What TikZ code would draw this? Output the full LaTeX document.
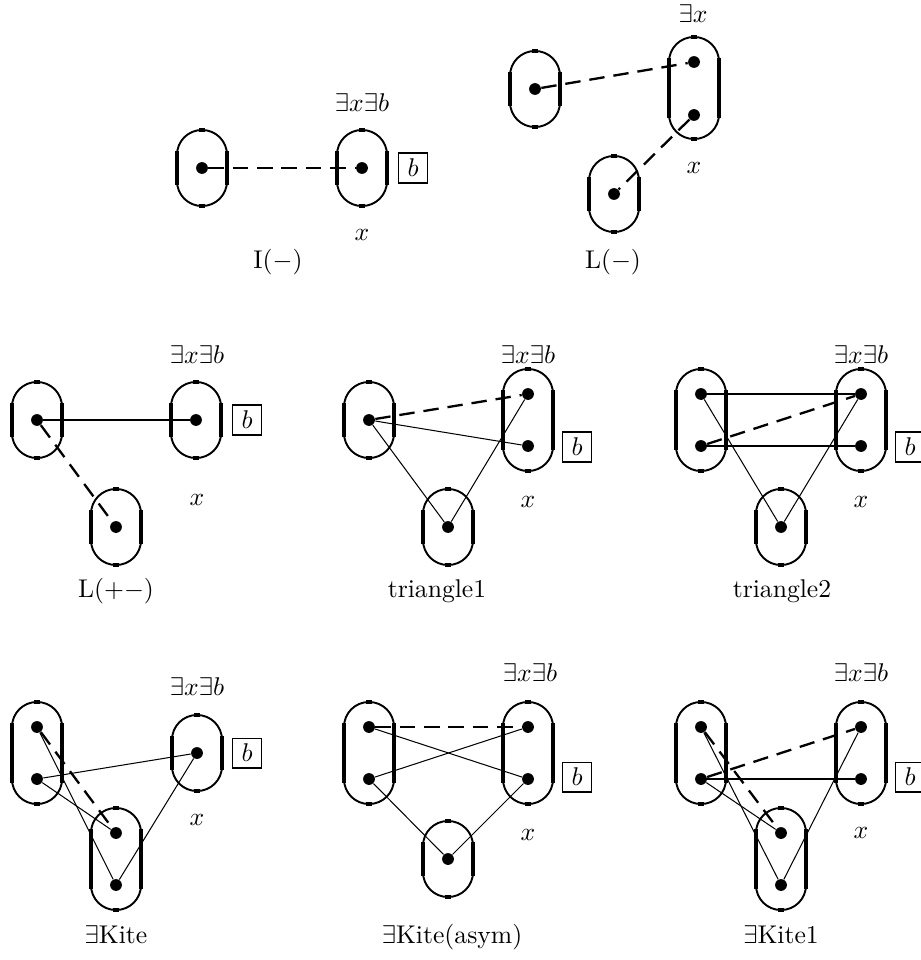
\documentclass[tikz,border=0pt]{standalone}
\usepackage{amssymb}
\usepackage{amsmath}

\tikzset{
    capline/.style={line width=0.75pt},
    capside/.style={line width=1.6pt},
    pics/capsule/.default=13,
    pics/capsule/.style={code={
        \draw[capline, rounded corners=9.7pt] (-25,{-#1-25}) rectangle (25,{#1+25});
        \draw[capside] (-25,{-#1-4}) -- (-25,{#1+4});
        \draw[capside] (25,{-#1-4}) -- (25,{#1+4});
        \draw[capside] (-3,{-#1-25}) -- (3,{-#1-25});
        \draw[capside] (-3,{#1+25}) -- (3,{#1+25});
    }}
}

\begin{document}
\begin{tikzpicture}[x=0.39pt, y=-0.39pt,
    dot/.style={circle, fill, inner sep=0pt, minimum size=4.6pt},
    dashline/.style={line width=0.9pt, dash pattern=on 6pt off 3.5pt},
    solidline/.style={line width=0.8pt},
    thinline/.style={line width=0.4pt},
    bbox/.style={draw, line width=0.75pt, inner xsep=3.5pt, inner ysep=2.2pt},
    caption/.style={anchor=base}]
    \useasboundingbox (0,0) rectangle (920,960);
    % I(-)
    \pic at (202,168) {capsule};
    \pic at (362,168) {capsule};
    \node[dot] (I1) at (202,168) {};
    \node[dot] (I2) at (362,168) {};
    \draw[dashline] (I1) -- (I2);
    \node at (362,103) {$\exists x\exists b$};
    \node[bbox] at (413,168) {$b$};
    \node at (362,235) {$x$};
    \node[caption] at (278,268) {I$(-)$};
    % L(-)
    \pic at (535,89) {capsule};
    \pic at (694,88) {capsule=26};
    \pic at (614,194) {capsule};
    \node[dot] (L1) at (535,89) {};
    \node[dot] (L2) at (694,62) {};
    \node[dot] (L3) at (694,115) {};
    \node[dot] (L4) at (614,194) {};
    \draw[dashline] (L1) -- (L2);
    \draw[dashline] (L3) -- (L4);
    \node at (693,14) {$\exists x$};
    \node at (694,168) {$x$};
    \node[caption] at (613,268) {L$(-)$};
    % L(+-)
    \pic at (37,420) {capsule};
    \pic at (196,420) {capsule};
    \pic at (116,527) {capsule};
    \node[dot] (P1) at (37,420) {};
    \node[dot] (P2) at (196,420) {};
    \node[dot] (P3) at (116,527) {};
    \draw[solidline] (P1) -- (P2);
    \draw[dashline] (P1) -- (P3);
    \node at (197,355) {$\exists x\exists b$};
    \node[bbox] at (247,420) {$b$};
    \node at (197,500) {$x$};
    \node[caption] at (116,597) {L$(+-)$};
    % triangle1
    \pic at (369,420) {capsule};
    \pic at (528,420) {capsule=26};
    \pic at (448,527) {capsule};
    \node[dot] (T1) at (369,420) {};
    \node[dot] (T2) at (528,394) {};
    \node[dot] (T3) at (528,446) {};
    \node[dot] (T4) at (448,527) {};
    \draw[dashline] (T1) -- (T2);
    \draw[thinline] (T1) -- (T3);
    \draw[thinline] (T1) -- (T4);
    \draw[thinline] (T4) -- (T2);
    \node at (528,355) {$\exists x\exists b$};
    \node[bbox] at (577,447) {$b$};
    \node at (528,502) {$x$};
    \node[caption] at (437,597) {triangle1};
    % triangle2
    \pic at (701,420) {capsule=26};
    \pic at (861,420) {capsule=26};
    \pic at (781,527) {capsule};
    \node[dot] (U1) at (701,394) {};
    \node[dot] (U2) at (701,446) {};
    \node[dot] (U3) at (861,394) {};
    \node[dot] (U4) at (861,446) {};
    \node[dot] (U5) at (781,527) {};
    \draw[solidline] (U1) -- (U3);
    \draw[solidline] (U2) -- (U4);
    \draw[dashline] (U2) -- (U3);
    \draw[thinline] (U1) -- (U5);
    \draw[thinline] (U5) -- (U3);
    \node at (861,355) {$\exists x\exists b$};
    \node[bbox] at (910,447) {$b$};
    \node at (861,502) {$x$};
    \node[caption] at (782,597) {triangle2};
    % Kite
    \pic at (37,753) {capsule=26};
    \pic at (197,753) {capsule};
    \pic at (116,859) {capsule=26};
    \node[dot] (K1) at (37,727) {};
    \node[dot] (K2) at (37,779) {};
    \node[dot] (K3) at (197,753) {};
    \node[dot] (K4) at (116,833) {};
    \node[dot] (K5) at (116,885) {};
    \draw[dashline] (K1) -- (K4);
    \draw[thinline] (K1) -- (K5);
    \draw[thinline] (K2) -- (K4);
    \draw[thinline] (K2) -- (K3);
    \draw[thinline] (K3) -- (K5);
    \node at (197,687) {$\exists x\exists b$};
    \node[bbox] at (247,753) {$b$};
    \node at (197,820) {$x$};
    \node[caption] at (116,943) {$\exists$Kite};
    % Kite(asym)
    \pic at (369,753) {capsule=26};
    \pic at (528,753) {capsule=26};
    \pic at (448,859) {capsule};
    \node[dot] (A1) at (369,727) {};
    \node[dot] (A2) at (369,779) {};
    \node[dot] (A3) at (528,727) {};
    \node[dot] (A4) at (528,779) {};
    \node[dot] (A5) at (448,859) {};
    \draw[dashline] (A1) -- (A3);
    \draw[thinline] (A1) -- (A4);
    \draw[thinline] (A2) -- (A3);
    \draw[thinline] (A2) -- (A5);
    \draw[thinline] (A5) -- (A4);
    \node at (530,673) {$\exists x\exists b$};
    \node[bbox] at (577,777) {$b$};
    \node at (528,835) {$x$};
    \node[caption] at (452,943) {$\exists$Kite(asym)};
    % Kite1
    \pic at (701,753) {capsule=26};
    \pic at (861,753) {capsule=26};
    \pic at (781,859) {capsule=26};
    \node[dot] (E1) at (701,727) {};
    \node[dot] (E2) at (701,779) {};
    \node[dot] (E3) at (861,727) {};
    \node[dot] (E4) at (861,779) {};
    \node[dot] (E5) at (781,833) {};
    \node[dot] (E6) at (781,885) {};
    \draw[dashline] (E1) -- (E5);
    \draw[dashline] (E2) -- (E3);
    \draw[solidline] (E2) -- (E4);
    \draw[thinline] (E1) -- (E6);
    \draw[thinline] (E2) -- (E5);
    \draw[thinline] (E6) -- (E3);
    \node at (861,673) {$\exists x\exists b$};
    \node[bbox] at (910,777) {$b$};
    \node at (861,833) {$x$};
    \node[caption] at (781,943) {$\exists$Kite1};
\end{tikzpicture}
\end{document}
